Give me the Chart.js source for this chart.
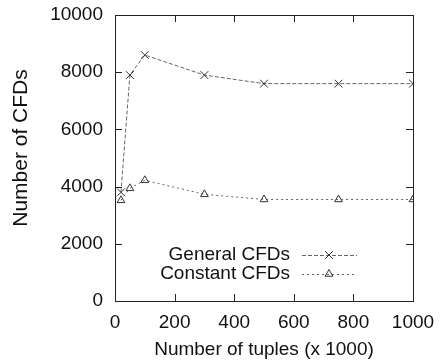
<!DOCTYPE html>
<html>
<head>
  <title>Number of CFDs</title>
  <script src="https://cdn.jsdelivr.net/npm/chart.js@4.4.0/dist/chart.umd.min.js"></script>
  <style>
    body { margin: 0; background: #fff; }
  </style>
</head>
<body>
  <canvas id="cfdChart" width="443" height="364"></canvas>

  <script>
    // values
    const tuples = [20, 50, 100, 300, 500, 750, 1000];
    const generalCFDs = [3800, 7900, 8600, 7900, 7600, 7600, 7600];
    const constantCFDs = [3520, 3940, 4220, 3730, 3550, 3550, 3550];
    const seriesNames = ['General CFDs', 'Constant CFDs'];
    const xTitle = 'Number of tuples (x 1000)';
    const yTitle = 'Number of CFDs';

    const FONT = '"Liberation Sans", Arial, sans-serif';
    const textColor = '#111';

    const toPoints = ys => tuples.map((x, i) => ({ x: x, y: ys[i] }));

    // no extra label padding, the layout padding decides the plot box
    const noPad = s => {
      s.paddingTop = 0; s.paddingBottom = 0; s.paddingLeft = 0; s.paddingRight = 0;
    };

    // gnuplot-like frame: box, ticks pointing inward, legend inside, rotated y title
    const framePlugin = {
      id: 'frame',
      afterDraw(chart) {
        const ctx = chart.ctx;
        const a = chart.chartArea;
        const xs = chart.scales.x, ys = chart.scales.y;
        ctx.save();
        ctx.strokeStyle = '#222';
        ctx.lineWidth = 1;
        ctx.strokeRect(a.left + 0.5, a.top + 0.5, a.right - a.left, a.bottom - a.top);
        const len = 7;
        ctx.beginPath();
        xs.ticks.forEach(t => {
          const px = Math.round(xs.getPixelForValue(t.value)) + 0.5;
          ctx.moveTo(px, a.bottom); ctx.lineTo(px, a.bottom - len);
          ctx.moveTo(px, a.top); ctx.lineTo(px, a.top + len);
        });
        ys.ticks.forEach(t => {
          const py = Math.round(ys.getPixelForValue(t.value)) + 0.5;
          ctx.moveTo(a.left, py); ctx.lineTo(a.left + len, py);
          ctx.moveTo(a.right, py); ctx.lineTo(a.right - len, py);
        });
        ctx.stroke();

        // y title
        ctx.fillStyle = textColor;
        ctx.font = '21px ' + FONT;
        ctx.textAlign = 'center';
        ctx.textBaseline = 'middle';
        ctx.translate(21, 148);
        ctx.rotate(-Math.PI / 2);
        ctx.fillText(yTitle, 0, 0);
        ctx.restore();

        // legend
        ctx.save();
        ctx.font = '19px ' + FONT;
        ctx.textAlign = 'right';
        ctx.textBaseline = 'middle';
        chart.data.datasets.forEach((ds, i) => {
          const y = 255 + i * 19;
          ctx.fillStyle = textColor;
          ctx.fillText(ds.label, 290, y);
          ctx.strokeStyle = ds.borderColor;
          ctx.lineWidth = 1;
          ctx.setLineDash(ds.borderDash);
          ctx.beginPath();
          ctx.moveTo(302, y + 0.5); ctx.lineTo(357, y + 0.5);
          ctx.stroke();
          ctx.setLineDash([]);
          ctx.strokeStyle = ds.pointBorderColor;
          ctx.fillStyle = 'rgba(0,0,0,0)';
          Chart.helpers.drawPoint(ctx, {
            pointStyle: ds.pointStyle, radius: ds.pointRadius, rotation: 0, borderWidth: 1
          }, 329, y);
        });
        ctx.restore();
      }
    };

    new Chart(document.getElementById('cfdChart'), {
      type: 'scatter',
      data: {
        datasets: [
          {
            label: seriesNames[0],
            data: toPoints(generalCFDs),
            showLine: true,
            borderColor: '#666',
            borderWidth: 1,
            borderDash: [4, 2],
            pointStyle: 'crossRot',
            pointRadius: 5.5,
            pointBorderColor: '#333',
            pointBackgroundColor: 'rgba(0,0,0,0)',
            pointBorderWidth: 1
          },
          {
            label: seriesNames[1],
            data: toPoints(constantCFDs),
            showLine: true,
            borderColor: '#666',
            borderWidth: 1,
            borderDash: [2, 3],
            pointStyle: 'triangle',
            pointRadius: 4.5,
            pointBorderColor: '#333',
            pointBackgroundColor: 'rgba(0,0,0,0)',
            pointBorderWidth: 1
          }
        ]
      },
      options: {
        responsive: false,
        animation: false,
        layout: { padding: { top: 15, right: 30, left: 0, bottom: 0 } },
        plugins: {
          legend: { display: false },
          tooltip: { enabled: false }
        },
        scales: {
          x: {
            type: 'linear',
            min: 0, max: 1000,
            afterFit: s => { s.height = 63; noPad(s); },
            grid: { display: false, drawTicks: false },
            border: { display: false },
            ticks: { stepSize: 200, padding: 10, color: textColor, font: { family: FONT, size: 19 }, callback: v => String(v) },
            title: { display: true, text: xTitle, color: textColor, padding: { top: 0, bottom: 3 }, font: { family: FONT, size: 19 } }
          },
          y: {
            min: 0, max: 10000,
            afterFit: s => { s.width = 115; noPad(s); },
            grid: { display: false, drawTicks: false },
            border: { display: false },
            ticks: { stepSize: 2000, padding: 12, color: textColor, font: { family: FONT, size: 19 }, callback: v => String(v) }
          }
        }
      },
      plugins: [framePlugin]
    });
  </script>
</body>
</html>
